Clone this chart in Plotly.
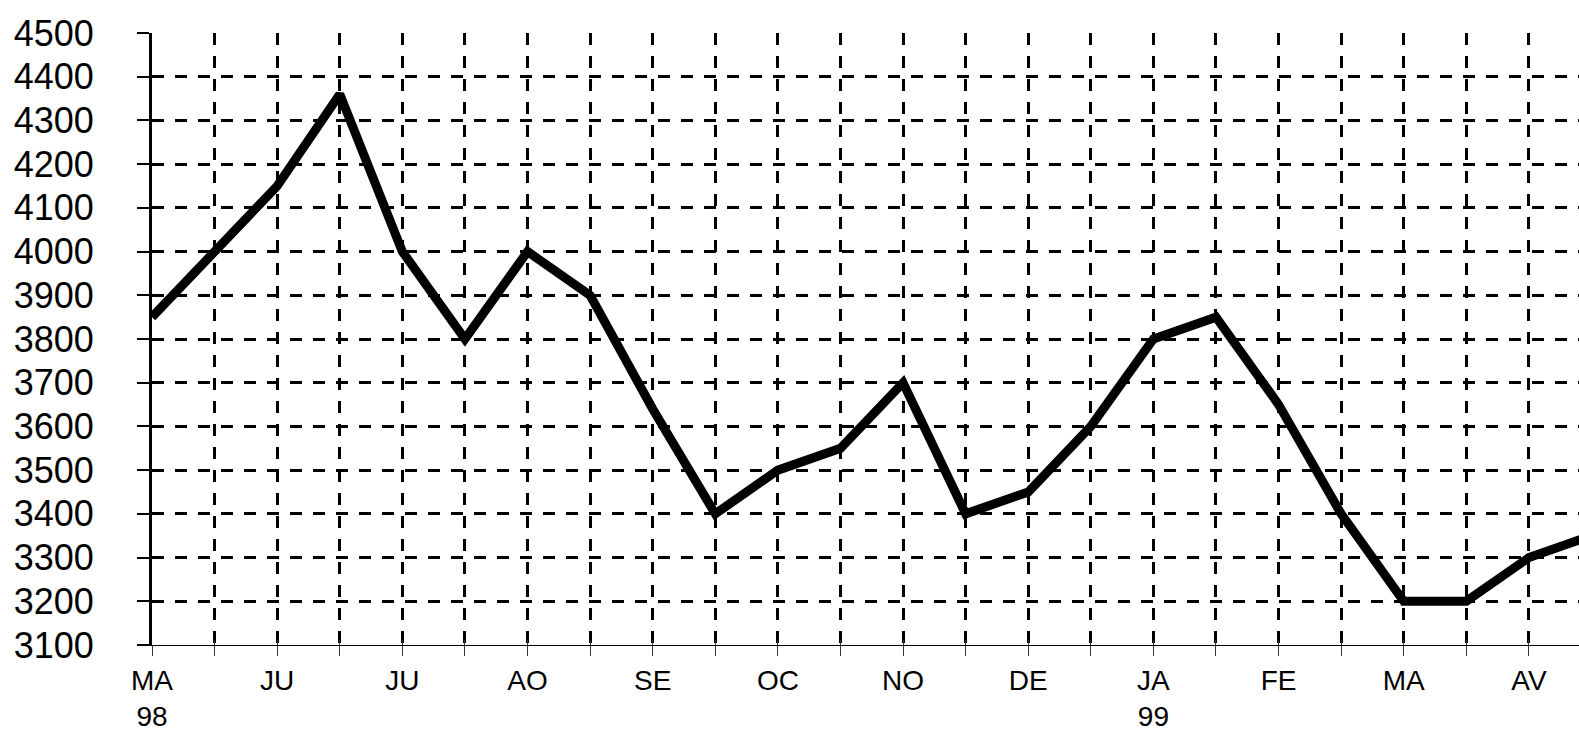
import plotly.graph_objects as go

# half-month positions, labels every month
month_labels = ["MA<br>98", "", "JU", "", "JU", "", "AO", "", "SE", "", "OC", "",
                "NO", "", "DE", "", "JA<br>99", "", "FE", "", "MA", "", "AV", ""]
values = [3850, 4000, 4150, 4360, 4000, 3800, 4000, 3900, 3640, 3400, 3500, 3550,
          3700, 3400, 3450, 3600, 3800, 3850, 3650, 3400, 3200, 3200, 3300, 3350]
y_ticks = list(range(3100, 4501, 100))

x = list(range(len(values)))

fig = go.Figure()
fig.add_trace(go.Scatter(x=x, y=values, mode="lines",
                         line=dict(color="black", width=9),
                         hoverinfo="skip", showlegend=False))
# invisible trace to carry the overlay axes (for crossing ticks)
fig.add_trace(go.Scatter(x=x, y=values, mode="lines", xaxis="x2", yaxis="y2",
                         line=dict(color="rgba(0,0,0,0)", width=0),
                         hoverinfo="skip", showlegend=False))

xr = [0, 22.8]
yr = [3100, 4500]

fig.update_layout(
    width=1579, height=735,
    margin=dict(l=152, r=0, t=33, b=90, autoexpand=False),
    paper_bgcolor="white", plot_bgcolor="white",
    xaxis=dict(range=xr, tickmode="array", tickvals=x, ticktext=month_labels,
               showgrid=True, gridcolor="black", gridwidth=3, griddash="12px,11px",
               showline=False, automargin=False,
               ticks="outside", ticklen=10, tickwidth=1, tickcolor="#333",
               ticklabelstandoff=0,
               tickfont=dict(family="Liberation Sans, Arial", size=28, color="black"),
               zeroline=False, fixedrange=True),
    yaxis=dict(range=yr, tickmode="array", tickvals=y_ticks,
               ticktext=[str(v) for v in y_ticks],
               showgrid=True, gridcolor="black", gridwidth=3, griddash="12px,11px",
               showline=True, linecolor="black", linewidth=3, automargin=False,
               ticks="outside", ticklen=12, tickwidth=2, tickcolor="black",
               tickfont=dict(family="Liberation Sans, Arial", size=36, color="black"),
               ticklabelstandoff=36,
               zeroline=False, fixedrange=True),
    xaxis2=dict(range=xr, overlaying="x", anchor="y2", side="bottom",
                tickmode="array", tickvals=x, ticks="inside", ticklen=5,
                tickwidth=1, tickcolor="#333", showticklabels=False,
                showgrid=False, showline=True, linecolor="black", linewidth=1,
                zeroline=False, automargin=False, fixedrange=True),
    yaxis2=dict(range=yr, overlaying="y", anchor="x2", side="left",
                tickmode="array", tickvals=y_ticks, ticks="inside", ticklen=10,
                tickwidth=2, tickcolor="black", showticklabels=False,
                showgrid=False, showline=False, zeroline=False,
                automargin=False, fixedrange=True),
)

fig.write_html("out.html", config={"displayModeBar": False, "staticPlot": True},
               post_script="document.body.style.margin='0';document.body.style.overflow='hidden';")
